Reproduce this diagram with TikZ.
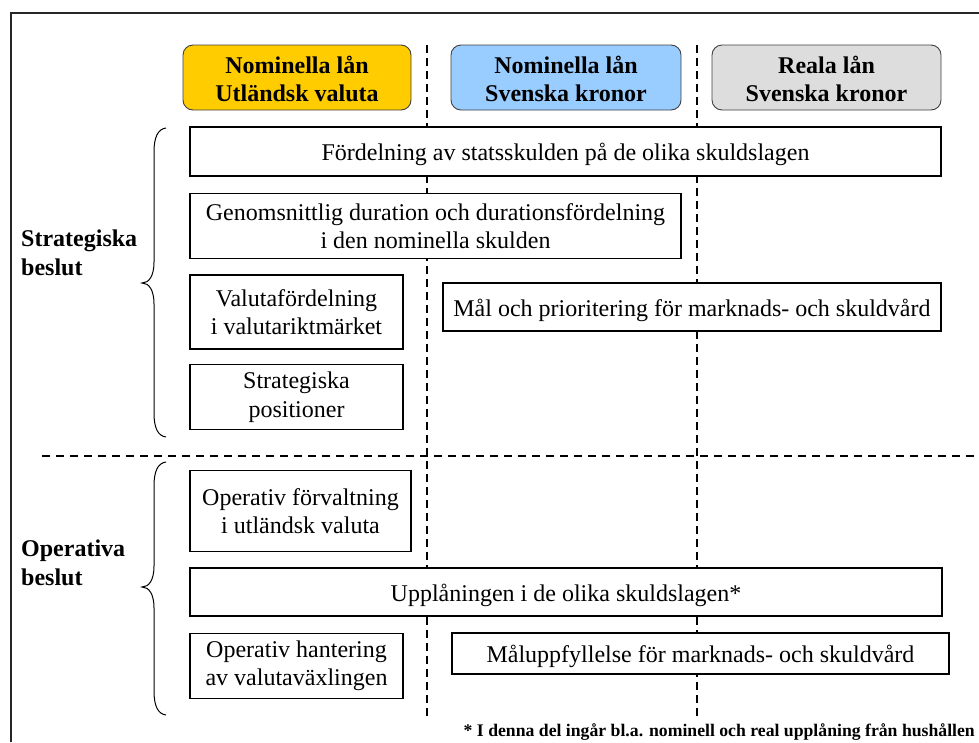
\documentclass[tikz,border=0pt]{standalone}
\usepackage{fontspec}
\setmainfont{Liberation Serif}
\definecolor{hdryellow}{HTML}{FFCC00}
\definecolor{hdrblue}{HTML}{99CCFF}
\definecolor{hdrgray}{HTML}{DDDDDD}
\definecolor{hdrborder}{HTML}{404040}
\begin{document}
\begin{tikzpicture}[x=1pt,y=-1pt,
  hdr/.style={draw=hdrborder, line width=0.9pt, rounded corners=10pt, inner sep=0pt, align=center,
     font=\fontsize{24}{28}\selectfont\bfseries, minimum height=65pt},
  box/.style={draw=black, line width=1.2pt, fill=white, inner sep=0pt, align=center,
     font=\fontsize{24}{28.5}\selectfont},
  oneline/.style={text height=19pt, text depth=1pt},
  side/.style={anchor=west, align=left, inner sep=0pt, font=\fontsize{24}{29}\selectfont\bfseries},
  divv/.style={dash pattern=on 8pt off 5pt, line width=2pt},
  divh/.style={dash pattern=on 8pt off 6pt, line width=1.8pt},
  framel/.style={line width=2pt, draw=black!85},
  bracel/.style={line width=1pt}
]
\useasboundingbox (0,0) rectangle (979,742);
% outer frame
\draw[framel] (11,742) -- (11,13) -- (979,13);
% dashed dividers
\draw[divv] (427,45) -- (427,718);
\draw[divv] (697,45) -- (697,718);
\draw[divh] (42,456) -- (979,456);
% headers
\node[hdr, fill=hdryellow, minimum width=228pt] (h1) at (297,77.5) {\rule{0pt}{20pt}Nominella lån\\Utländsk valuta};
\node[hdr, fill=hdrblue, minimum width=230pt] (h2) at (566,77.5) {\rule{0pt}{20pt}Nominella lån\\Svenska kronor};
\node[hdr, fill=hdrgray, minimum width=229pt] (h3) at (826.5,77.5) {\rule{0pt}{20pt}Reala lån\\Svenska kronor};
% strategic boxes
\node[box, oneline, minimum width=751pt, minimum height=49pt] (fordel) at (565.5,151.5) {Fördelning av statsskulden på de olika skuldslagen};
\node[box, minimum width=491pt, minimum height=65pt] (genom) at (435.5,226) {Genomsnittlig duration och durationsfördelning\\i den nominella skulden};
\node[box, minimum width=213pt, minimum height=74pt] (valuta) at (296.5,312) {Valutafördelning\\i valutariktmärket};
\node[box, minimum width=213pt, minimum height=65pt] (strat) at (296.5,397) {Strategiska\\positioner};
\node[box, oneline, minimum width=498pt, minimum height=48pt] (mal) at (692,307) {Mål och prioritering för marknads- och skuldvård};
% operative boxes
\node[box, minimum width=221pt, minimum height=81pt] (opforv) at (300.5,511) {Operativ förvaltning\\i utländsk valuta};
\node[box, oneline, minimum width=752pt, minimum height=48pt] (uppl) at (566,592) {Upplåningen i de olika skuldslagen*};
\node[box, minimum width=213pt, minimum height=65pt] (ophant) at (296.5,666) {Operativ hantering\\av valutaväxlingen};
\node[box, oneline, minimum width=497pt, minimum height=41pt] (maluppf) at (700.5,653.5) {Måluppfyllelse för marknads- och skuldvård};
% side labels
\node[side] (strlab) at (21,253) {Strategiska\\beslut};
\node[side] (oplab) at (21,563) {Operativa\\beslut};
% braces
\draw[bracel] (166,128) .. controls (158,129) and (154,137) .. (154,152)
  -- (154,262) .. controls (154,276) and (149,283) .. (142,283)
  .. controls (149,283) and (154,290) .. (154,304)
  -- (154,413) .. controls (154,428) and (158,436) .. (166,437);
\draw[bracel] (166,462) .. controls (158,463) and (154,471) .. (154,486)
  -- (154,566) .. controls (154,580) and (149,587) .. (142,587)
  .. controls (149,587) and (154,594) .. (154,608)
  -- (154,691) .. controls (154,706) and (158,714) .. (166,715);
% footnote
\node[anchor=base east, inner sep=0pt, font=\fontsize{17.7}{20}\selectfont\bfseries] (foot) at (975,736) {* I denna del ingår bl.a. nominell och real upplåning från hushållen};
\end{tikzpicture}
\end{document}
